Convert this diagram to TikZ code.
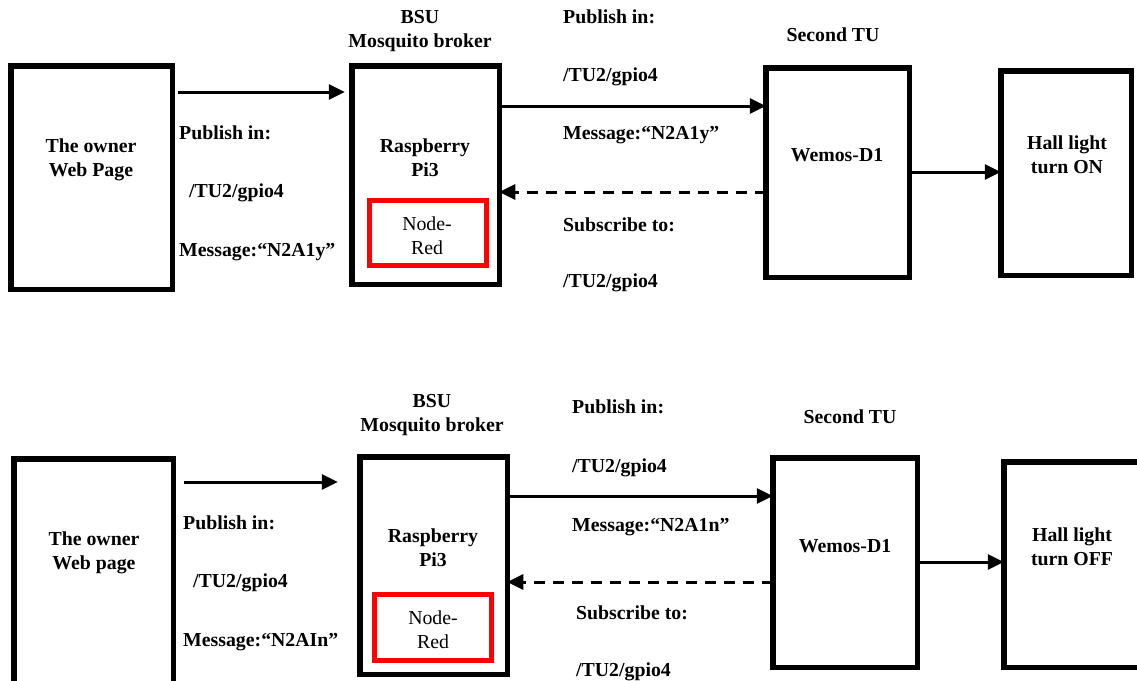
\documentclass[tikz,border=0pt]{standalone}
\usepackage{fontspec}
\setmainfont{Liberation Serif}
\usetikzlibrary{arrows.meta,calc}
\begin{document}
\begin{tikzpicture}[x=1pt,y=-1pt,
  box/.style={draw=black,line width=5.5pt,fill=white,inner sep=0pt,outer sep=0pt},
  redbox/.style={draw=red,line width=5pt,fill=white,inner sep=0pt,outer sep=0pt},
  lbl/.style={font=\fontsize{19.8}{24}\selectfont\bfseries,inner sep=0pt,align=center},
  llbl/.style={lbl,anchor=west,align=left},
  rlbl/.style={font=\fontsize{19.8}{24}\selectfont,inner sep=0pt,align=center},
  arr/.style={line width=3pt,-{Triangle[length=16pt,width=15pt]}},
  darr/.style={line width=3pt,dash pattern=on 11pt off 8pt,-{Triangle[length=16pt,width=15pt]}}]
\useasboundingbox (0,0) rectangle (1137,680);
\clip (0,0) rectangle (1137,680);
\fill[white] (0,0) rectangle (1137,680);
% ---------- top row ----------
\node[box,minimum width=161.5pt,minimum height=223.5pt] (owner1) at (91.5,177.5) {};
\node[box,minimum width=147.5pt,minimum height=218.5pt] (bsu1) at (425.5,175) {};
\node[redbox,minimum width=117pt,minimum height=65pt] (nr1) at (428,233) {};
\node[box,minimum width=143.5pt,minimum height=209.5pt] (wemos1) at (837.5,172.5) {};
\node[box,minimum width=130.5pt,minimum height=204.5pt] (hall1) at (1066,173) {};
\node[lbl] (tow1) at (91,160) {The owner\\Web Page};
\node[lbl] (tbsu1) at (420,31) {BSU\\Mosquito broker};
\node[lbl] (trp1) at (425,158) {Raspberry\\Pi3};
\node[rlbl] (tnr1) at (427,236) {Node-\\Red};
\node[lbl] (tsec1) at (833,35) {Second TU};
\node[lbl] (twe1) at (837,155) {Wemos-D1};
\node[lbl] (thl1) at (1067,155) {Hall light\\turn ON};
\node[llbl] (p1a) at (179,133) {Publish in:};
\node[llbl] (p1b) at (189,193) {/TU2/gpio4};
\node[llbl] (p1c) at (179,252) {Message:“N2A1y”};
\node[llbl] (q1a) at (563,17) {Publish in:};
\node[llbl] (q1b) at (563,77) {/TU2/gpio4};
\node[llbl] (q1c) at (563,135) {Message:“N2A1y”};
\node[llbl] (q1d) at (563,225) {Subscribe to:};
\node[llbl] (q1e) at (563,283) {/TU2/gpio4};
\draw[arr] ($(owner1.east)+(6,-85.5)$) -- ($(bsu1.west)+(-7,-83)$);
\draw[arr] (bsu1.east |- 0,106) -- (wemos1.west |- 0,106);
\draw[darr] (wemos1.west |- 0,192) -- (bsu1.east |- 0,192);
\draw[arr] (wemos1.east |- 0,172) -- (hall1.west |- 0,172);
% ---------- bottom row ----------
\node[box,minimum width=159.5pt,minimum height=294.5pt] (owner2) at (93.5,606) {};
\node[box,minimum width=147.5pt,minimum height=217.5pt] (bsu2) at (433.5,565.5) {};
\node[redbox,minimum width=117pt,minimum height=66pt] (nr2) at (433,627.5) {};
\node[box,minimum width=144.5pt,minimum height=209.5pt] (wemos2) at (845,562.5) {};
\node[box,minimum width=173.5pt,minimum height=205.5pt] (hall2) at (1090.5,564.5) {};
\node[lbl] (tow2) at (94,553) {The owner\\Web page};
\node[lbl] (tbsu2) at (432,415) {BSU\\Mosquito broker};
\node[lbl] (trp2) at (433,548) {Raspberry\\Pi3};
\node[rlbl] (tnr2) at (433,630) {Node-\\Red};
\node[lbl] (tsec2) at (850,417) {Second TU};
\node[lbl] (twe2) at (845,546) {Wemos-D1};
\node[lbl] (thl2) at (1072,547) {Hall light\\turn OFF};
\node[llbl] (p2a) at (183,523) {Publish in:};
\node[llbl] (p2b) at (193,583) {/TU2/gpio4};
\node[llbl] (p2c) at (183,642) {Message:“N2AIn”};
\node[llbl] (q2a) at (572,407) {Publish in:};
\node[llbl] (q2b) at (572,468) {/TU2/gpio4};
\node[llbl] (q2c) at (572,527) {Message:“N2A1n”};
\node[llbl] (q2d) at (576,613) {Subscribe to:};
\node[llbl] (q2e) at (576,672) {/TU2/gpio4};
\draw[arr] (owner2.east |- 0,482) ++(11,0) -- ($(bsu2.west |- 0,482)+(-22,0)$);
\draw[arr] (bsu2.east |- 0,496) -- (wemos2.west |- 0,496);
\draw[darr] (wemos2.west |- 0,582) -- (bsu2.east |- 0,582);
\draw[arr] (wemos2.east |- 0,562) -- (hall2.west |- 0,562);
\end{tikzpicture}
\end{document}
